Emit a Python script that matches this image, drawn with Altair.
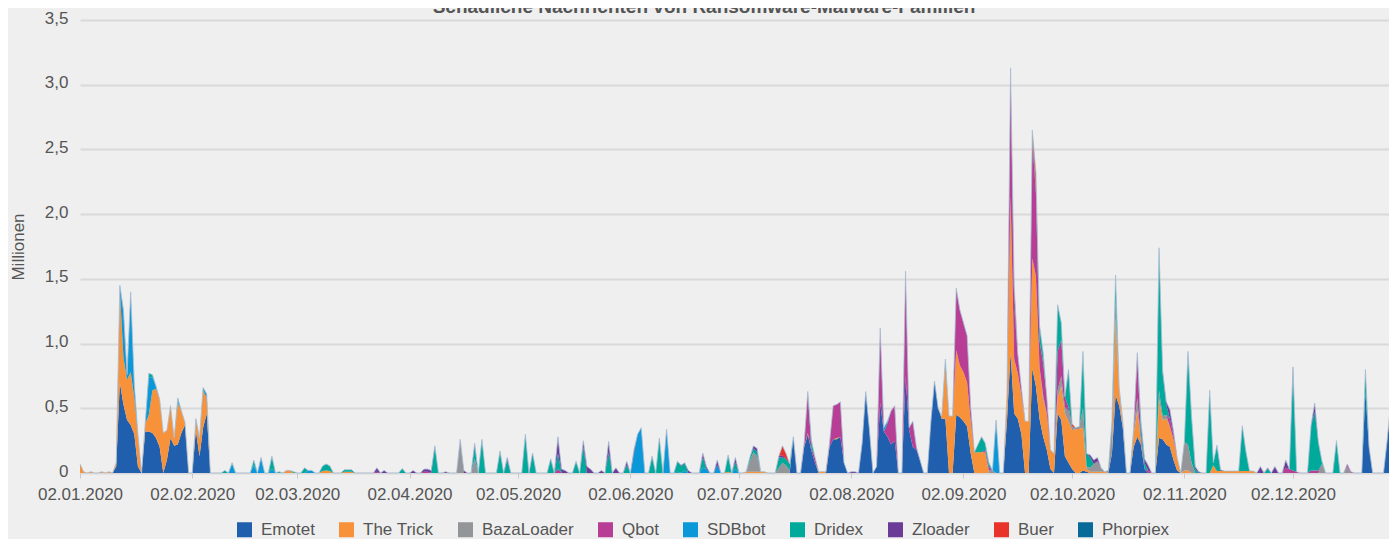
import altair as alt
import pandas as pd

title_text = "Schädliche Nachrichten von Ransomware-Malware-Familien"
series_names = ["Emotet", "The Trick", "BazaLoader", "Qbot", "SDBbot",
                "Dridex", "Zloader", "Buer", "Phorpiex"]
series_colors = ["#1f5fad", "#f7923a", "#939598", "#b83d94", "#0a98d8",
                 "#00aa9b", "#6c3a97", "#e8322b", "#076a98"]

# values in millions, keyed by day of year 2020 (1 = 01.01.2020); missing days = 0
emotet = {12: 0.05, 13: 0.70, 14: 0.53, 15: 0.41, 16: 0.37, 17: 0.30, 18: 0.05,
          20: 0.32, 21: 0.32, 22: 0.31, 23: 0.27, 24: 0.20, 26: 0.10, 27: 0.27,
          28: 0.21, 29: 0.22, 30: 0.31, 31: 0.37, 34: 0.33, 35: 0.13, 36: 0.35,
          37: 0.46, 199: 0.28, 202: 0.20, 203: 0.30, 204: 0.17, 205: 0.08,
          209: 0.20, 210: 0.26, 211: 0.26, 212: 0.28, 213: 0.08, 218: 0.23,
          219: 0.63, 220: 0.34, 222: 0.05, 223: 0.54, 224: 0.32, 225: 0.28,
          226: 0.22, 227: 0.25, 230: 0.75, 231: 0.33, 232: 0.20, 233: 0.18,
          234: 0.10, 237: 0.40, 238: 0.71, 239: 0.50, 240: 0.42, 241: 0.42,
          244: 0.45, 245: 0.43, 246: 0.40, 247: 0.36, 248: 0.15, 258: 0.40,
          259: 0.93, 260: 0.46, 261: 0.42, 262: 0.30, 265: 0.81, 266: 0.67,
          267: 0.42, 268: 0.28, 269: 0.18, 270: 0.03, 272: 0.46, 273: 0.41,
          274: 0.13, 275: 0.08, 276: 0.03, 279: 0.02, 280: 0.01, 287: 0.15,
          288: 0.60, 289: 0.52, 290: 0.35, 293: 0.20, 294: 0.28, 295: 0.22,
          296: 0.03, 300: 0.27, 301: 0.26, 302: 0.22, 303: 0.20, 304: 0.10,
          305: 0.02, 357: 0.62, 358: 0.20, 363: 0.25, 364: 0.52, 365: 0.52,
          366: 0.50}
the_trick = {2: 0.07, 3: 0.01, 5: 0.01, 8: 0.01, 10: 0.01, 12: 0.03, 13: 0.72,
             14: 0.36, 15: 0.31, 16: 0.41, 17: 0.28, 18: 0.25, 20: 0.06, 21: 0.13,
             22: 0.33, 23: 0.38, 24: 0.37, 25: 0.31, 26: 0.23, 27: 0.25, 28: 0.06,
             29: 0.32, 30: 0.17, 31: 0.02, 34: 0.08, 35: 0.14, 36: 0.29, 37: 0.12,
             59: 0.02, 60: 0.02, 69: 0.015, 70: 0.02, 71: 0.015, 75: 0.01,
             76: 0.01, 77: 0.01, 181: 0.01, 186: 0.01, 187: 0.01, 188: 0.01,
             189: 0.01, 190: 0.01, 191: 0.01, 203: 0.01, 206: 0.01, 207: 0.01,
             208: 0.01, 211: 0.01, 240: 0.02, 241: 0.42, 242: 0.44, 243: 0.44,
             244: 0.50, 245: 0.40, 246: 0.38, 247: 0.34, 248: 0.25, 249: 0.16,
             250: 0.16, 251: 0.16, 252: 0.16, 258: 0.20, 259: 1.21, 260: 0.42,
             261: 0.35, 262: 0.30, 263: 0.40, 264: 0.40, 265: 0.85, 266: 0.85,
             267: 0.40, 268: 0.29, 269: 0.28, 270: 0.15, 271: 0.15, 272: 0.12,
             273: 0.26, 274: 0.33, 275: 0.32, 276: 0.30, 277: 0.34, 278: 0.34,
             279: 0.33, 280: 0.02, 281: 0.01, 282: 0.01, 283: 0.01, 284: 0.01,
             285: 0.01, 288: 0.60, 289: 0.12, 290: 0.02, 293: 0.10, 294: 0.20,
             295: 0.03, 300: 0.30, 301: 0.15, 302: 0.20, 303: 0.16, 304: 0.16,
             305: 0.10, 307: 0.02, 308: 0.02, 315: 0.06, 316: 0.015, 317: 0.015,
             318: 0.015, 319: 0.015, 320: 0.015, 321: 0.015, 322: 0.015,
             323: 0.015, 324: 0.015, 325: 0.015, 326: 0.015, 364: 0.04,
             365: 0.03, 366: 0.03}
bazaloader = {107: 0.26, 111: 0.11, 187: 0.08, 188: 0.15, 189: 0.12, 195: 0.04,
              196: 0.08, 197: 0.06, 198: 0.02, 253: 0.02, 254: 0.02, 268: 0.03,
              272: 0.06, 273: 0.08, 274: 0.05, 275: 0.08, 276: 0.03, 277: 0.01,
              278: 0.02, 279: 0.15, 280: 0.02, 281: 0.03, 282: 0.06, 283: 0.08,
              284: 0.03, 286: 0.02, 287: 0.25, 288: 0.15, 289: 0.02, 290: 0.03,
              293: 0.05, 294: 0.10, 300: 0.07, 301: 0.03, 302: 0.03, 307: 0.22,
              308: 0.20, 309: 0.08, 345: 0.07, 352: 0.05}
qbot = {84: 0.01, 97: 0.01, 98: 0.01, 134: 0.03, 202: 0.03, 203: 0.32,
        204: 0.02, 205: 0.04, 209: 0.03, 210: 0.26, 211: 0.26, 212: 0.27,
        223: 0.58, 225: 0.10, 226: 0.26, 227: 0.27, 230: 0.81, 231: 0.02,
        232: 0.20, 233: 0.02, 244: 0.48, 245: 0.43, 246: 0.38, 247: 0.36,
        248: 0.10, 252: 0.02, 253: 0.03, 259: 0.99, 260: 0.40, 261: 0.15,
        262: 0.05, 265: 0.90, 266: 0.65, 267: 0.20, 268: 0.25, 269: 0.13,
        272: 0.30, 273: 0.28, 274: 0.08, 275: 0.03, 294: 0.30, 295: 0.05,
        297: 0.02, 303: 0.06, 304: 0.03, 335: 0.04, 336: 0.03, 337: 0.02,
        338: 0.01, 342: 0.02, 343: 0.02, 344: 0.02, 352: 0.02, 353: 0.01}
sdbbot = {13: 0.03, 14: 0.36, 15: 0.04, 16: 0.61, 17: 0.10, 21: 0.29, 22: 0.10,
          23: 0.02, 29: 0.02, 34: 0.01, 36: 0.02, 37: 0.03, 44: 0.07, 50: 0.06,
          52: 0.12, 55: 0.03, 65: 0.02, 66: 0.02, 155: 0.15, 156: 0.30,
          157: 0.35, 164: 0.34, 167: 0.01, 169: 0.02, 174: 0.04, 175: 0.03,
          178: 0.06, 183: 0.03, 224: 0.03, 225: 0.02, 241: 0.04, 255: 0.41}
dridex = {21: 0.03, 22: 0.02, 29: 0.02, 42: 0.02, 44: 0.01, 50: 0.04, 55: 0.10,
          57: 0.01, 61: 0.01, 64: 0.04, 69: 0.04, 70: 0.05, 71: 0.04, 75: 0.015,
          76: 0.015, 77: 0.015, 91: 0.035, 100: 0.21, 111: 0.10, 113: 0.26,
          118: 0.17, 120: 0.10, 125: 0.30, 127: 0.155, 132: 0.11, 134: 0.12,
          139: 0.09, 141: 0.20, 148: 0.155, 153: 0.06, 160: 0.13, 162: 0.27,
          167: 0.08, 168: 0.05, 169: 0.06, 174: 0.08, 181: 0.13, 183: 0.05,
          187: 0.03, 188: 0.03, 189: 0.03, 195: 0.08, 196: 0.04, 197: 0.05,
          198: 0.05, 204: 0.06, 250: 0.06, 251: 0.12, 252: 0.05, 253: 0.03,
          265: 0.05, 266: 0.03, 267: 0.12, 268: 0.08, 272: 0.36, 273: 0.13,
          275: 0.29, 279: 0.44, 280: 0.10, 281: 0.08, 288: 0.18, 295: 0.10,
          296: 0.05, 300: 1.10, 301: 0.33, 302: 0.08, 308: 0.72, 309: 0.35,
          310: 0.03, 314: 0.64, 315: 0.02, 316: 0.20, 323: 0.35, 324: 0.15,
          330: 0.03, 337: 0.77, 342: 0.35, 343: 0.45, 344: 0.22, 345: 0.02,
          349: 0.25, 357: 0.18}
zloader = {84: 0.03, 86: 0.02, 94: 0.02, 97: 0.02, 98: 0.02, 99: 0.02, 103: 0.01,
           108: 0.02, 111: 0.02, 120: 0.02, 134: 0.13, 135: 0.03, 136: 0.02,
           141: 0.05, 142: 0.05, 143: 0.03, 146: 0.02, 148: 0.09, 150: 0.04,
           153: 0.03, 155: 0.03, 168: 0.01, 170: 0.02, 174: 0.035, 175: 0.02,
           178: 0.04, 183: 0.04, 188: 0.02, 189: 0.03, 195: 0.01, 196: 0.02,
           215: 0.01, 216: 0.01, 260: 0.12, 281: 0.02, 282: 0.03, 283: 0.03,
           294: 0.05, 296: 0.03, 297: 0.04, 301: 0.02, 302: 0.02, 303: 0.07,
           304: 0.03, 310: 0.02, 311: 0.01, 317: 0.01, 328: 0.05, 330: 0.01,
           332: 0.05, 335: 0.06, 337: 0.03, 343: 0.07}
buer = {196: 0.07, 197: 0.04, 260: 0.05, 265: 0.04, 266: 0.12, 276: 0.02}
phorpiex = {14: 0.01, 16: 0.01}

series_values = [emotet, the_trick, bazaloader, qbot, sdbbot, dridex,
                 zloader, buer, phorpiex]

x_tick_dates = [(2020, m, 2) for m in range(1, 13)]
y_ticks = [0, 0.5, 1.0, 1.5, 2.0, 2.5, 3.0, 3.5]

rows = []
start = pd.Timestamp("2020-01-01")
for doy in range(2, 367):
    d = (start + pd.Timedelta(days=doy - 1)).strftime("%Y-%m-%dT00:00:00")
    for i, (name, vals) in enumerate(zip(series_names, series_values)):
        rows.append({"date": d, "series": name, "ord": i,
                     "value": vals.get(doy, 0.0)})
df = pd.DataFrame(rows)

FONT = "Liberation Sans"
GREY = "#555555"
FS = 17

x_scale = alt.Scale(domain=[alt.DateTime(year=2020, month=1, date=2),
                            alt.DateTime(year=2020, month=12, date=31)],
                    range=[0, 1318], nice=False)

x_enc = alt.X(
    "date:T", scale=x_scale,
    axis=alt.Axis(values=[alt.DateTime(year=y, month=m, date=d) for (y, m, d) in x_tick_dates],
                  format="%d.%m.%Y", title=None, grid=False, domain=False,
                  ticks=True, tickSize=5, tickColor="#c8c8c8", tickWidth=1,
                  labelPadding=8, labelFontSize=FS, labelColor=GREY,
                  labelFont=FONT, labelFlush=False, labelOverlap=False),
)

area = alt.Chart(df).mark_area(interpolate="linear").encode(
    x=x_enc,
    y=alt.Y("value:Q", stack="zero",
            scale=alt.Scale(domain=[0, 3.5], nice=False),
            axis=alt.Axis(values=y_ticks, title="Millionen",
                          labelExpr="datum.value == 0 ? '0' : replace(format(datum.value, '.1f'), '.', ',')",
                          domain=False, ticks=False, grid=True,
                          gridColor="#d9d9d9", gridWidth=2,
                          labelPadding=12, labelFontSize=FS, labelColor=GREY,
                          labelFont=FONT, labelOffset=-2,
                          titleFont=FONT, titleFontSize=FS, titleColor=GREY,
                          titleFontWeight="normal", titlePadding=17)),
    color=alt.Color("series:N",
                    scale=alt.Scale(domain=series_names, range=series_colors),
                    sort=series_names,
                    legend=alt.Legend(title=None, orient="none", direction="horizontal",
                                      legendX=156, legendY=501,
                                      symbolType="square", symbolSize=225,
                                      symbolStrokeWidth=0, symbolOpacity=1,
                                      labelFont=FONT, labelFontSize=FS,
                                      labelColor=GREY, labelOffset=8,
                                      labelLimit=300, columnPadding=23)),
    order=alt.Order("ord:Q", sort="ascending"),
)

outline = alt.Chart(df).mark_line(color="#a9bdd3", strokeWidth=1, opacity=0.8).encode(
    x=alt.X("date:T", scale=x_scale),
    y=alt.Y("sum(value):Q"),
)

title_mark = alt.Chart(pd.DataFrame({"t": [title_text]})).mark_text(
    font=FONT, fontSize=19, fontWeight="bold", color=GREY,
    align="center", baseline="alphabetic",
).encode(text="t:N", x=alt.value(624), y=alt.value(-7))

chart = alt.layer(area, outline, title_mark).properties(
    width=1309, height=453,
    autosize=alt.AutoSizeParams(type="none"),
    padding={"left": 72, "top": 12, "right": 0, "bottom": 66},
).configure(background="#efefef").configure_view(stroke=None)

chart.save("out.html", embed_options={"renderer": "svg", "actions": False})
